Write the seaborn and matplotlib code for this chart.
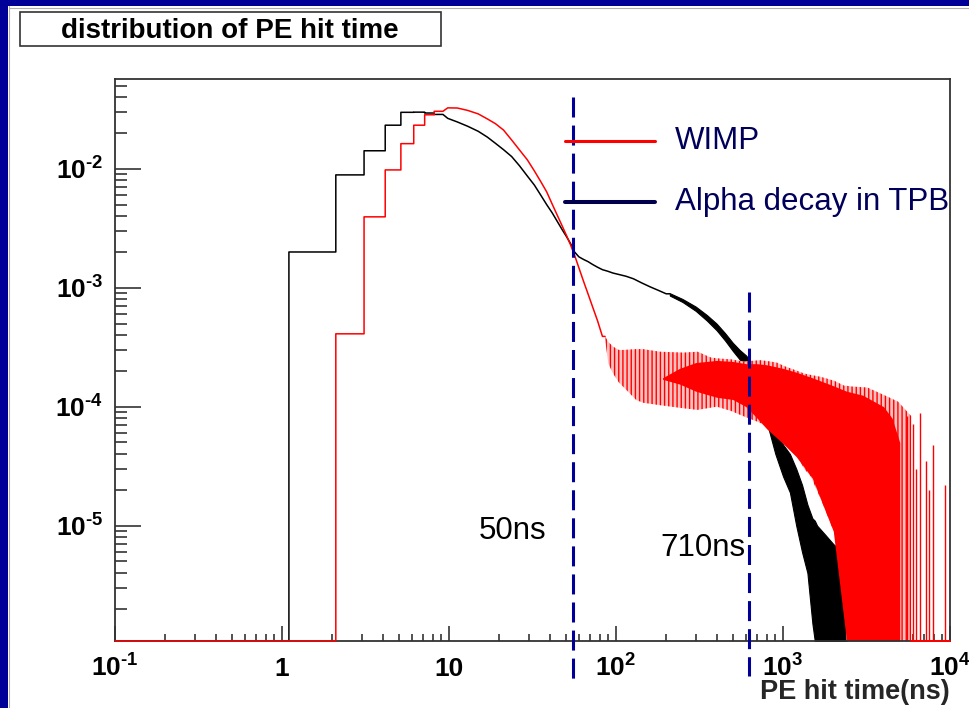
import numpy as np
import pandas as pd
import matplotlib
matplotlib.use("Agg")
import matplotlib.pyplot as plt
import seaborn as sns
from matplotlib.lines import Line2D
from matplotlib.patches import Rectangle
from matplotlib.ticker import LogLocator, NullFormatter, FixedLocator, FixedFormatter
from matplotlib.transforms import blended_transform_factory

# ---------------- data ----------------
title_text = "distribution of PE hit time"
x_label = "PE hit time(ns)"
series_labels = ["WIMP", "Alpha decay in TPB"]

x_ticks = [0.1, 1, 10, 100, 1000, 10000]
x_tick_labels = [r"$10^{\text{-}1}$", "1", "10", r"$10^{2}$", r"$10^{3}$", r"$10^{4}$"]
y_ticks = [1e-2, 1e-3, 1e-4, 1e-5]
y_tick_labels = [r"$10^{\text{-}2}$", r"$10^{\text{-}3}$", r"$10^{\text{-}4}$", r"$10^{\text{-}5}$"]

# Alpha decay in TPB: smooth part of the histogram (bin edges in ns, contents)
alpha_edges = [0.1, 1.1, 2.1, 3.1, 4.15, 5.15, 6.15, 7.15, 8.15, 9.2,
               10.5, 12, 14, 16, 18, 20, 22.5, 25, 28, 31,
               34, 37, 40, 43, 46, 49, 52, 55, 58, 62,
               66, 70, 75, 80, 86, 92, 100, 110, 120, 135,
               150, 170, 190, 210]
alpha_values = [0, 2.0e-3, 8.9e-3, 1.42e-2, 2.33e-2, 2.99e-2, 3.0e-2, 2.95e-2, 2.87e-2,
                2.66e-2, 2.48e-2, 2.28e-2, 2.07e-2, 1.85e-2, 1.64e-2, 1.45e-2, 1.27e-2, 1.06e-2, 8.7e-3,
                7.3e-3, 6.0e-3, 5.0e-3, 4.27e-3, 3.62e-3, 3.10e-3, 2.70e-3, 2.35e-3, 2.0e-3, 1.82e-3,
                1.73e-3, 1.66e-3, 1.57e-3, 1.49e-3, 1.42e-3, 1.38e-3, 1.33e-3, 1.29e-3, 1.25e-3, 1.19e-3,
                1.10e-3, 1.02e-3, 9.5e-4, 8.9e-4]
# Alpha decay: fluctuating tail, upper / lower envelope of the bins
alpha_band_t = [210, 250, 300, 350, 400, 450, 500, 550, 600, 650,
                700, 760, 820, 900, 1000, 1100, 1200, 1300, 1400, 1500,
                1550, 1600, 1800, 2000, 2200, 2400]
alpha_band_hi = [9.0e-4, 8.05e-4, 6.95e-4, 5.9e-4, 5.0e-4, 4.15e-4, 3.45e-4, 3.0e-4, 2.7e-4, 2.35e-4,
                 1.95e-4, 1.5e-4, 1.1e-4, 7.0e-5, 4.8e-5, 4.0e-5, 3.0e-5, 2.2e-5, 1.5e-5, 1.15e-5,
                 1.1e-5, 1.0e-5, 8.3e-6, 7.0e-6, 6.2e-6, 5.5e-6]
alpha_band_lo = [8.6e-4, 7.6e-4, 6.4e-4, 5.3e-4, 4.4e-4, 3.6e-4, 2.95e-4, 2.5e-4, 2.2e-4, 1.75e-4,
                 1.3e-4, 9.0e-5, 6.5e-5, 4.0e-5, 2.6e-5, 1.9e-5, 1.0e-5, 6.0e-6, 4.0e-6, 1.5e-6,
                 0, 0, 0, 0, 0, 0]
alpha_spike_t = [2550, 2800]
alpha_spike_y = [2.1e-6, 2.1e-6]

# WIMP: smooth part of the histogram
wimp_edges = [0.1, 2.1, 3.1, 4.15, 5.15, 6.15, 7.15, 8.15, 9.2, 10.5,
              12, 14, 16, 18, 20, 22.5, 25, 28, 31, 34,
              37, 40, 43, 46, 49, 52, 55, 58, 62, 66,
              70, 75, 80, 86]
wimp_values = [0, 4.1e-4, 3.95e-3, 9.8e-3, 1.63e-2, 2.33e-2, 2.85e-2, 3.05e-2, 3.26e-2,
               3.25e-2, 3.1e-2, 2.9e-2, 2.63e-2, 2.4e-2, 2.12e-2, 1.75e-2, 1.44e-2, 1.19e-2, 9.6e-3,
               7.8e-3, 6.4e-3, 5.06e-3, 4.08e-3, 3.34e-3, 2.76e-3, 2.29e-3, 1.88e-3, 1.47e-3, 1.13e-3,
               8.9e-4, 6.9e-4, 5.3e-4, 3.9e-4]
# WIMP: fluctuating part, outer envelope of the spikes
wimp_band_t = [86, 90, 96, 104, 110, 132, 145, 183, 253, 308,
               367, 402, 489, 582, 733, 841, 925, 1014, 1220, 1340,
               1466, 1690, 2030, 2330, 2400, 2550, 3200, 4250, 4900, 5870]
wimp_band_hi = [3.9e-4, 3.5e-4, 3.2e-4, 3.0e-4, 3.0e-4, 3.05e-4, 3.05e-4, 2.9e-4, 2.85e-4, 2.9e-4,
                2.6e-4, 2.55e-4, 2.5e-4, 2.4e-4, 2.46e-4, 2.4e-4, 2.34e-4, 2.2e-4, 2.0e-4, 1.9e-4,
                1.85e-4, 1.78e-4, 1.65e-4, 1.5e-4, 1.5e-4, 1.48e-4, 1.45e-4, 1.21e-4, 1.1e-4, 8.3e-5]
wimp_band_lo = [3.7e-4, 2.3e-4, 1.9e-4, 1.6e-4, 1.48e-4, 1.14e-4, 1.08e-4, 1.03e-4, 9.7e-5, 9.4e-5,
                9.8e-5, 1.0e-4, 9.2e-5, 8.3e-5, 7.3e-5, 6.4e-5, 5.6e-5, 4.9e-5, 3.8e-5, 3.0e-5,
                2.6e-5, 1.65e-5, 8.7e-6, 3.3e-6, 0, 0, 0, 0, 0, 0]
# WIMP: dense core of the fluctuating part
wimp_core_t = [190, 240, 300, 400, 500, 600, 700, 800, 1000, 1200,
               1500, 2000, 2400, 3000, 4000, 4500, 5000]
wimp_core_hi = [1.75e-4, 2.1e-4, 2.35e-4, 2.45e-4, 2.4e-4, 2.3e-4, 2.3e-4, 2.25e-4, 2.1e-4, 1.95e-4,
                1.75e-4, 1.5e-4, 1.35e-4, 1.25e-4, 1.0e-4, 8.0e-5, 5.0e-5]
wimp_core_lo = [1.7e-4, 1.55e-4, 1.35e-4, 1.2e-4, 1.15e-4, 1.0e-4, 8.0e-5, 6.5e-5, 4.9e-5, 3.8e-5,
                2.5e-5, 9e-6, 0, 0, 0, 0, 0]
# WIMP: isolated late bins
wimp_spike_t = [5500, 6030, 6300, 6600, 7200, 7500, 7940, 9330]
wimp_spike_y = [8.3e-5, 7.2e-5, 3.0e-5, 8.9e-5, 3.5e-5, 2.0e-5, 4.8e-5, 2.2e-5]

# analysis cut markers
cut_times = [55, 624]
cut_labels = ["50ns", "710ns"]

# ---------------- styling ----------------
sns.set_theme(style="white")
plt.rcParams["font.family"] = ["Liberation Sans", "DejaVu Sans"]
plt.rcParams["mathtext.fontset"] = "custom"
plt.rcParams["mathtext.rm"] = "Liberation Sans:bold"
plt.rcParams["mathtext.bf"] = "Liberation Sans:bold"
plt.rcParams["mathtext.it"] = "Liberation Sans:bold"
plt.rcParams["mathtext.sf"] = "Liberation Sans:bold"
plt.rcParams["mathtext.default"] = "rm"
plt.rcParams["hatch.linewidth"] = 1.0
plt.rcParams["lines.scale_dashes"] = False

RED = "#ff0000"
NAVY = "#000096"
TEXT_NAVY = "#00005a"

W, H = 970, 708
fig = plt.figure(figsize=(W / 100, H / 100), dpi=100)
fig.patch.set_facecolor("white")

ax_l, ax_r, ax_t, ax_b = 115, 950, 79, 641
ax = fig.add_axes([ax_l / W, 1 - ax_b / H, (ax_r - ax_l) / W, (ax_b - ax_t) / H])
ax.set_facecolor("white")
ax.set_xscale("log")
ax.set_yscale("log")
y_floor = 1.07e-6
ax.set_xlim(0.1, 1e4)
ax.set_ylim(y_floor, 5.7e-2)


def hist_frame(edges, values, step_until=9.5):
    """Wide bins drawn as steps, narrow bins joined through their centres."""
    xs, ys = [], []
    for i, v in enumerate(values):
        v = max(float(v), y_floor)
        lo, hi = edges[i], edges[i + 1]
        if hi <= step_until:
            xs += [lo, hi]
            ys += [v, v]
        else:
            xs.append(np.sqrt(lo * hi))
            ys.append(v)
    xs.append(edges[-1])
    ys.append(max(float(values[-1]), y_floor))
    return pd.DataFrame({"t": xs, "n": ys})


# Alpha decay (drawn first, WIMP on top)
sns.lineplot(data=hist_frame(alpha_edges, alpha_values), x="t", y="n", ax=ax,
             color="black", lw=1.1, sort=False, estimator=None, errorbar=None, zorder=2.0)
ax.fill_between(alpha_band_t, np.maximum(alpha_band_lo, y_floor), alpha_band_hi,
                color="black", lw=0.8, zorder=2.1)
ax.vlines(alpha_spike_t, y_floor, alpha_spike_y, color="black", lw=1.0, zorder=2.1)

# WIMP
sns.lineplot(data=hist_frame(wimp_edges, wimp_values), x="t", y="n", ax=ax,
             color=RED, lw=1.1, sort=False, estimator=None, errorbar=None,
             zorder=3.0, clip_on=False)
ax.fill_between(wimp_band_t, np.maximum(wimp_band_lo, y_floor), wimp_band_hi,
                facecolor="#ffc0c0", edgecolor=RED, hatch="||||", lw=0, zorder=2.3)
ax.fill_between(wimp_core_t, np.maximum(wimp_core_lo, y_floor), wimp_core_hi,
                color=RED, lw=0, zorder=2.4)
ax.vlines(wimp_spike_t, y_floor, wimp_spike_y, color=RED, lw=1.0, zorder=2.4)
ax.plot([wimp_band_t[-1], 1e4], [y_floor, y_floor], color=RED, lw=1.4,
        clip_on=False, zorder=3.0)

# axes frame and ticks
for s in ax.spines.values():
    s.set_visible(True)
    s.set_color("#333333")
    s.set_linewidth(1.3)
    s.set_zorder(2.6)

ax.xaxis.set_major_locator(FixedLocator(x_ticks))
ax.xaxis.set_major_formatter(FixedFormatter(x_tick_labels))
ax.xaxis.set_minor_locator(LogLocator(base=10, subs=np.arange(2, 10), numticks=30))
ax.xaxis.set_minor_formatter(NullFormatter())
ax.yaxis.set_major_locator(FixedLocator(y_ticks))
ax.yaxis.set_major_formatter(FixedFormatter(y_tick_labels))
ax.yaxis.set_minor_locator(LogLocator(base=10, subs=np.arange(2, 10), numticks=30))
ax.yaxis.set_minor_formatter(NullFormatter())

ax.tick_params(axis="x", which="major", direction="in", length=11, width=1.2,
               color="#333333", bottom=True, top=False, pad=25.5,
               labelsize=19, labelcolor="black")
ax.tick_params(axis="x", which="minor", direction="in", length=5, width=1.2,
               color="#333333", bottom=True, top=False)
ax.tick_params(axis="y", which="major", direction="in", length=19, width=1.2,
               color="#333333", left=True, right=False, pad=8.5,
               labelsize=19, labelcolor="black")
ax.tick_params(axis="y", which="minor", direction="in", length=8.6, width=1.2,
               color="#333333", left=True, right=False)
for lab in ax.get_xticklabels():
    lab.set_fontweight("bold")
    lab.set_verticalalignment("baseline")
for lab in ax.get_yticklabels():
    lab.set_fontweight("bold")
ax.grid(False)

ax.set_xlabel(x_label, fontsize=19.5, fontweight="bold", loc="right")
ax.xaxis.set_label_coords(1.0, (ax_b - 692) / (ax_b - ax_t))
ax.xaxis.label.set_verticalalignment("center")
ax.set_ylabel("")

# cut markers (dashed vertical lines reaching below the frame)
trans = blended_transform_factory(ax.transData, ax.transAxes)
cut_spans = [((ax_b - 97) / (ax_b - ax_t), (ax_b - 684) / (ax_b - ax_t)),
             ((ax_b - 292) / (ax_b - ax_t), (ax_b - 676) / (ax_b - ax_t))]
for t, (y_top, y_bot) in zip(cut_times, cut_spans):
    ax.plot([t, t], [y_top, y_bot], transform=trans, clip_on=False,
            color=NAVY, lw=2.2, dashes=(14.4, 5.8), zorder=5)

label_pos = [(513, 531), (703, 548)]
for txt, (px, py) in zip(cut_labels, label_pos):
    fig.text(px / W, 1 - py / H, txt, ha="center", va="center",
             fontsize=22.5, color="black", zorder=6)

# legend
legend_rows = [(141, RED, 2.2), (202, "#00004d", 2.9)]
for lab, (py, col, lw) in zip(series_labels, legend_rows):
    fig.add_artist(Line2D([565 / W, 655 / W], [1 - py / H, 1 - py / H],
                          transform=fig.transFigure, color=col, lw=lw, zorder=4))
    fig.text(675 / W, 1 - py / H, lab, ha="left", va="center",
             fontsize=22.5, color=TEXT_NAVY, zorder=6)

# title box
fig.add_artist(Rectangle((20 / W, 1 - 46 / H), 421 / W, 34 / H, transform=fig.transFigure,
                         facecolor="white", edgecolor="#333333", lw=1.2, zorder=3))
fig.text(230 / W, 1 - 31 / H, title_text, ha="center", va="center",
         fontsize=20, fontweight="bold", color="black", zorder=4)

# outer blue border (left and top)
fig.add_artist(Rectangle((0, 0), 8 / W, 1, transform=fig.transFigure,
                         facecolor="#000099", edgecolor="none", zorder=1))
fig.add_artist(Rectangle((0, 1 - 6 / H), 1, 6 / H, transform=fig.transFigure,
                         facecolor="#000099", edgecolor="none", zorder=1))
fig.add_artist(Line2D([9.5 / W, 9.5 / W], [0, 1 - 6 / H], transform=fig.transFigure,
                      color="#b0b0b0", lw=0.8, zorder=1))
fig.add_artist(Line2D([9.5 / W, 1], [1 - 7.5 / H, 1 - 7.5 / H], transform=fig.transFigure,
                      color="#b0b0b0", lw=0.8, zorder=1))

fig.savefig("out.png", dpi=100, facecolor="white")
